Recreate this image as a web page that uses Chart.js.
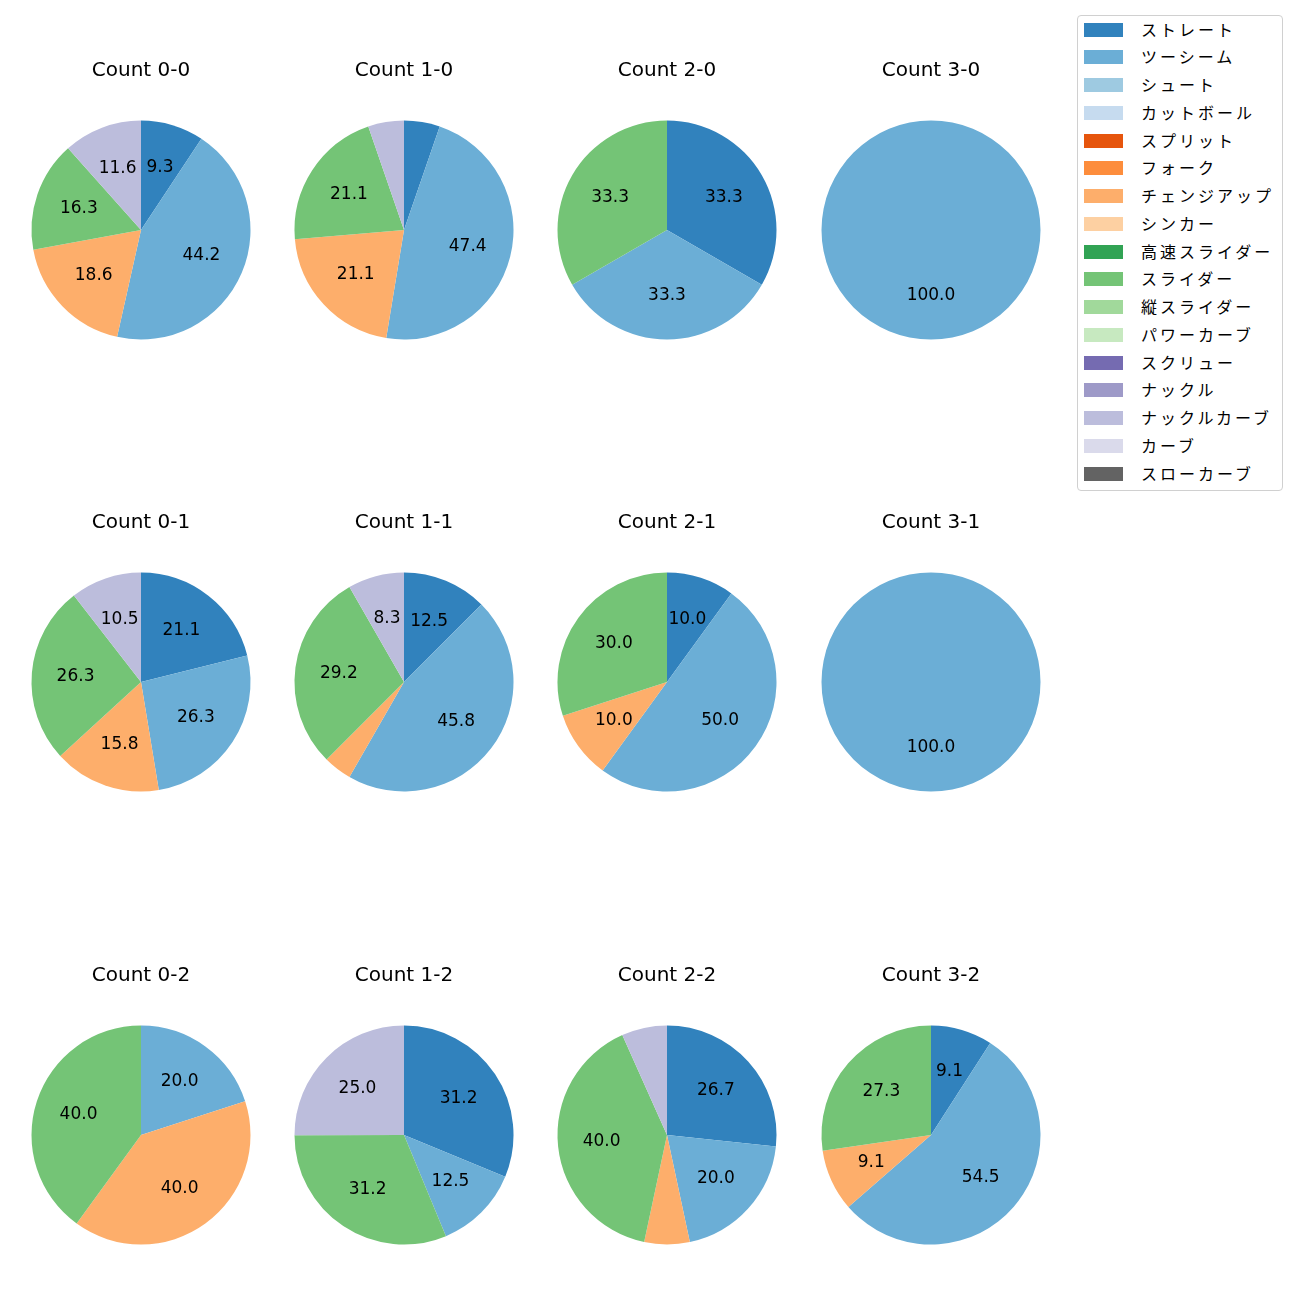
<!DOCTYPE html>
<html>
<head>
<meta charset="utf-8">
<script src="https://cdn.jsdelivr.net/npm/chart.js@4"></script>
<style>
    body { margin: 0; background: #fff; width: 1300px; height: 1300px; position: relative; overflow: hidden;
           font-family: "Noto Sans CJK JP", "Noto Sans", sans-serif; }
    canvas { position: absolute; }
    #legend { position: absolute; left: 1077px; top: 15px; width: 204px; height: 474px;
              border: 1px solid #d0d0d0; border-radius: 4px; background: #fff; }
    .patch { position: absolute; width: 39px; height: 14px; }
    .name { position: absolute; font-size: 16px; letter-spacing: 3px; color: #000; line-height: 18px; white-space: nowrap; }
</style>
</head>
<body>
<div id="legend"></div>
<script>
// legend order (tab20c colours)
const pitchTypes = ['ストレート', 'ツーシーム', 'シュート', 'カットボール', 'スプリット', 'フォーク',
    'チェンジアップ', 'シンカー', '高速スライダー', 'スライダー', '縦スライダー', 'パワーカーブ',
    'スクリュー', 'ナックル', 'ナックルカーブ', 'カーブ', 'スローカーブ'];
const pitchColors = ['#3182bd', '#6baed6', '#9ecae1', '#c6dbef', '#e6550d', '#fd8d3c',
    '#fdae6b', '#fdd0a2', '#31a354', '#74c476', '#a1d99b', '#c7e9c0',
    '#756bb1', '#9e9ac8', '#bcbddc', '#dadaeb', '#636363'];

// pitches that actually appear in the pies
const usedTypes = ['ストレート', 'ツーシーム', 'チェンジアップ', 'スライダー', 'ナックルカーブ'];

const countTitles = ['Count 0-0', 'Count 1-0', 'Count 2-0', 'Count 3-0',
                     'Count 0-1', 'Count 1-1', 'Count 2-1', 'Count 3-1',
                     'Count 0-2', 'Count 1-2', 'Count 2-2', 'Count 3-2'];

// percentages, same order as usedTypes
const count00 = [9.3, 44.2, 18.6, 16.3, 11.6];
const count10 = [5.3, 47.4, 21.1, 21.1, 5.3];
const count20 = [33.3, 33.3, 0, 33.3, 0];
const count30 = [0, 100.0, 0, 0, 0];
const count01 = [21.1, 26.3, 15.8, 26.3, 10.5];
const count11 = [12.5, 45.8, 4.2, 29.2, 8.3];
const count21 = [10.0, 50.0, 10.0, 30.0, 0];
const count31 = [0, 100.0, 0, 0, 0];
const count02 = [0, 20.0, 40.0, 40.0, 0];
const count12 = [31.2, 12.5, 0, 31.2, 25.0];
const count22 = [26.7, 20.0, 6.7, 40.0, 6.7];
const count32 = [9.1, 54.5, 9.1, 27.3, 0];

const allCounts = [count00, count10, count20, count30,
                   count01, count11, count21, count31,
                   count02, count12, count22, count32];

const colCenters = [140.5, 403.5, 667, 930.5];
const rowCenters = [229.5, 682, 1134.5];
const pieRadius = 109.5;

const usedColors = usedTypes.map(t => pitchColors[pitchTypes.indexOf(t)]);

// percentage labels at 0.6 of the radius, small slices left blank
const pctLabels = {
    id: 'pctLabels',
    afterDatasetsDraw(chart) {
        const ctx = chart.ctx;
        const values = chart.data.datasets[0].data;
        chart.getDatasetMeta(0).data.forEach((arc, i) => {
            if (values[i] < 7) return;
            const mid = (arc.startAngle + arc.endAngle) / 2;
            const r = arc.outerRadius * 0.6;
            ctx.save();
            ctx.fillStyle = '#000';
            ctx.font = '17px "DejaVu Sans"';
            ctx.textAlign = 'center';
            ctx.textBaseline = 'middle';
            ctx.fillText(values[i].toFixed(1), arc.x + Math.cos(mid) * r, arc.y + Math.sin(mid) * r);
            ctx.restore();
        });
    }
};

function createPie(values, title, cx, cy) {
    const canvas = document.createElement('canvas');
    canvas.width = 240;
    canvas.height = 290;
    canvas.style.left = (cx - 120) + 'px';
    canvas.style.top = (cy - 180) + 'px';
    document.body.appendChild(canvas);

    return new Chart(canvas.getContext('2d'), {
        type: 'pie',
        data: {
            labels: usedTypes,
            datasets: [{
                data: values,
                backgroundColor: usedColors,
                borderWidth: 0,
                hoverOffset: 0
            }]
        },
        options: {
            responsive: false,
            animation: false,
            events: [],
            radius: pieRadius,
            layout: { padding: { left: 10, right: 10, top: 0, bottom: 0 } },
            plugins: {
                legend: { display: false },
                tooltip: { enabled: false },
                title: {
                    display: true,
                    text: title,
                    color: '#000',
                    font: { family: '"DejaVu Sans"', size: 20, weight: 'normal', lineHeight: 1.2 },
                    padding: { top: 8.5, bottom: 37.5 }
                }
            }
        },
        plugins: [pctLabels]
    });
}

allCounts.forEach((values, i) => {
    createPie(values, countTitles[i], colCenters[i % 4], rowCenters[Math.floor(i / 4)]);
});

// legend
const legend = document.getElementById('legend');
pitchTypes.forEach((name, i) => {
    const y = 29.5 + i * 27.75 - 15;
    const patch = document.createElement('div');
    patch.className = 'patch';
    patch.style.background = pitchColors[i];
    patch.style.left = '6px';
    patch.style.top = (y - 7 - 1) + 'px';
    legend.appendChild(patch);

    const label = document.createElement('div');
    label.className = 'name';
    label.textContent = name;
    label.style.left = '63px';
    label.style.top = (y - 9 - 2) + 'px';
    legend.appendChild(label);
});
</script>
</body>
</html>
